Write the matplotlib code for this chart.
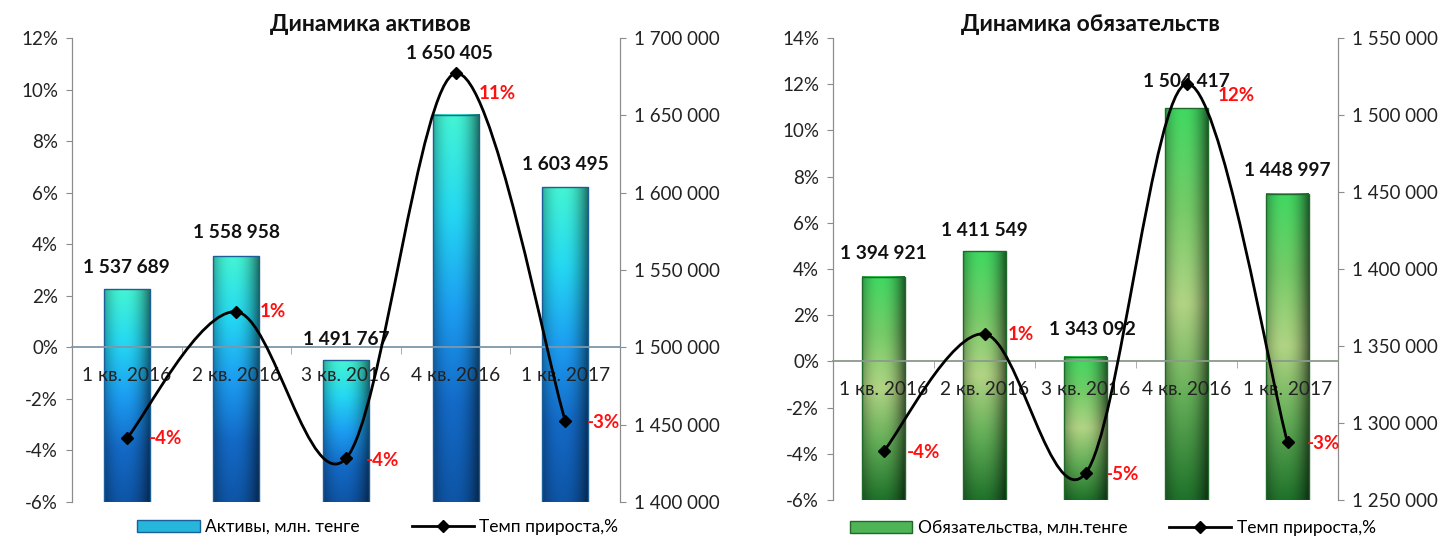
# Two combo charts: gradient bars (values) + smoothed growth line (percent)

import numpy as np
import matplotlib
matplotlib.use("Agg")
from matplotlib import pyplot as plt
from matplotlib.colors import to_rgb
from matplotlib.lines import Line2D
from matplotlib.patches import Patch, Rectangle, PathPatch
from matplotlib.path import Path
from matplotlib.ticker import FuncFormatter, MultipleLocator, FixedLocator

plt.rcParams['font.family'] = ['Lato', 'DejaVu Sans']

quarters = ['1 кв. 2016', '2 кв. 2016', '3 кв. 2016', '4 кв. 2016', '1 кв. 2017']

assets = [1537689, 1558958, 1491767, 1650405, 1603495]
assets_growth = [-3.53, 1.38, -4.31, 10.63, -2.84]
assets_growth_labels = ['-4%', '1%', '-4%', '11%', '-3%']

liabs = [1394921, 1411549, 1343092, 1504417, 1448997]
liabs_growth = [-3.9, 1.19, -4.85, 12.01, -3.5]
liabs_growth_labels = ['-4%', '1%', '-5%', '12%', '-3%']


def space_fmt(v, pos=None):
    return f"{int(round(v)):,}".replace(",", " ")


def smooth_path(x, y):
    # excel-like smoothed line: catmull-rom turned into bezier segments
    pts = np.column_stack([x, y]).astype(float)
    n = len(pts)
    verts = [pts[0]]
    codes = [Path.MOVETO]
    for i in range(n - 1):
        p0 = pts[i - 1] if i > 0 else pts[i]
        p3 = pts[i + 2] if i + 2 < n else pts[i + 1]
        c1 = pts[i] + (pts[i + 1] - p0) / 6
        c2 = pts[i + 1] - (p3 - pts[i]) / 6
        verts += [c1, c2, pts[i + 1]]
        codes += [Path.CURVE4] * 3
    return Path(verts, codes)


def gradient_bar(ax, x, top, base, width, stops, edge):
    t = np.linspace(0, 1, 80)
    sp = np.linspace(0, 1, len(stops))
    rgb = np.array([to_rgb(c) for c in stops])
    col = np.stack([np.interp(t, sp, rgb[:, k]) for k in range(3)], axis=1)
    u = np.linspace(-1, 1, 40)
    shade = np.clip(1.08 - 0.45 * np.abs(u + 0.15) ** 2.2, 0, 1.15)
    img = np.clip(col[:, None, :] * shade[None, :, None], 0, 1)
    ax.imshow(img, extent=(x - width / 2, x + width / 2, base, top),
              aspect='auto', origin='upper', zorder=2, interpolation='bilinear')
    ax.add_patch(Rectangle((x - width / 2, base), width, top - base,
                           fill=False, edgecolor=edge, lw=1.0, zorder=3))


def draw_chart(ax, title, title_x, values, growth, glabels, pct_lim, val_lim,
               stops, edge, leg_col, axis_col, name, val_off, pct_off, leg_xy, colsp):
    axr = ax.twinx()
    ax.set_zorder(axr.get_zorder() + 1)
    ax.patch.set_visible(False)

    xs = np.arange(len(quarters))
    w = 0.42
    for x, v in zip(xs, values):
        gradient_bar(axr, x, v, val_lim[0], w, stops, edge)
    for x, v, off in zip(xs, values, val_off):
        axr.annotate(space_fmt(v), (x, v), xytext=off, textcoords='offset pixels',
                     ha='center', va='center', fontsize=13.8, fontweight='bold',
                     color='#111111', zorder=6)
    axr.set_ylim(*val_lim)
    axr.set_xlim(-0.5, len(quarters) - 0.5)
    axr.yaxis.set_major_locator(MultipleLocator(50000))
    axr.yaxis.set_major_formatter(FuncFormatter(space_fmt))

    # growth line
    ax.add_patch(PathPatch(smooth_path(xs, growth), fill=False, lw=2.0,
                           edgecolor='black', zorder=4))
    ax.plot(xs, growth, ls='none', marker='D', ms=6.5, color='black', zorder=5)
    for x, g, lab, off in zip(xs, growth, glabels, pct_off):
        ax.annotate(lab, (x, g), xytext=off, textcoords='offset pixels',
                    ha='center', va='center', fontsize=13.5, fontweight='bold',
                    color='#ff1010', zorder=6)
    ax.set_ylim(*pct_lim)
    ax.set_xlim(-0.5, len(quarters) - 0.5)
    ax.yaxis.set_major_locator(MultipleLocator(2))
    ax.yaxis.set_major_formatter(FuncFormatter(lambda v, p: f"{int(round(v))}%"))

    # category axis crossing at 0%
    ax.spines['bottom'].set_position(('data', 0))
    ax.spines['bottom'].set_color(axis_col)
    ax.spines['bottom'].set_linewidth(1.3)
    ax.set_xticks(xs)
    ax.set_xticklabels(quarters)
    ax.xaxis.set_minor_locator(FixedLocator(xs[:-1] + 0.5))
    ax.tick_params(axis='x', which='major', length=0, pad=14, labelsize=13.8,
                   labelcolor='#222222')
    ax.tick_params(axis='x', which='minor', length=5, color='#a0a0a0', direction='out')

    for a in (ax, axr):
        a.spines['top'].set_visible(False)
        a.spines['left'].set_color('#8c8c8c')
        a.spines['right'].set_color('#8c8c8c')
    axr.spines['bottom'].set_visible(False)
    ax.tick_params(axis='y', length=4, color='#8c8c8c', labelsize=13.5,
                   labelcolor='#222222', pad=6)
    axr.tick_params(axis='y', length=4, color='#8c8c8c', labelsize=13.5,
                    labelcolor='#222222', pad=6)

    ax.text(title_x, 1.03, title, transform=ax.transAxes, ha='center', va='center',
            fontsize=16.5, fontweight='bold', color='#111111')

    handles = [Patch(facecolor=leg_col, edgecolor=edge),
               Line2D([], [], color='black', lw=2, marker='D', ms=6.5)]
    ax.legend(handles, [name, 'Темп прироста,%'], loc='center',
              bbox_to_anchor=leg_xy, ncol=2, frameon=False,
              fontsize=12.5, handlelength=3.6, columnspacing=colsp, handletextpad=0.3)


fig = plt.figure(figsize=(14.43, 5.39), dpi=100)
ax1 = fig.add_axes([72 / 1443, 1 - 502 / 539, 548 / 1443, 464 / 539])
ax2 = fig.add_axes([833 / 1443, 1 - 500 / 539, 505 / 1443, 462 / 539])

draw_chart(ax1, 'Динамика активов', 0.544, assets, assets_growth, assets_growth_labels,
           (-6, 12), (1400000, 1700000),
           ['#3ee2c4', '#22c8e0', '#1a92e0', '#1262b8', '#0d4f9a'], '#1b5f9a', '#26b6dc',
           '#7f97a8', 'Активы, млн. тенге',
           [(0, 22), (0, 24), (0, 21), (-6, 61), (0, 23)],
           [(39, 0), (36, 0), (37, -2), (42, -20), (38, -2)], (0.558, -0.054), 3.0)

draw_chart(ax2, 'Динамика обязательств', 0.509, liabs, liabs_growth, liabs_growth_labels,
           (-6, 14), (1250000, 1550000),
           ['#3cc85a', '#6cbc60', '#a4c47a', '#5aa050', '#1e6a28'], '#1f6a2a', '#4fb455',
           '#8a9a8c', 'Обязательства, млн.тенге',
           [(0, 23), (0, 21), (7, 27), (0, 27), (0, 23)],
           [(40, -1), (36, -1), (37, -1), (50, -12), (36, -1)], (0.554, -0.06), 2.4)

fig.savefig('out.png', dpi=100)
